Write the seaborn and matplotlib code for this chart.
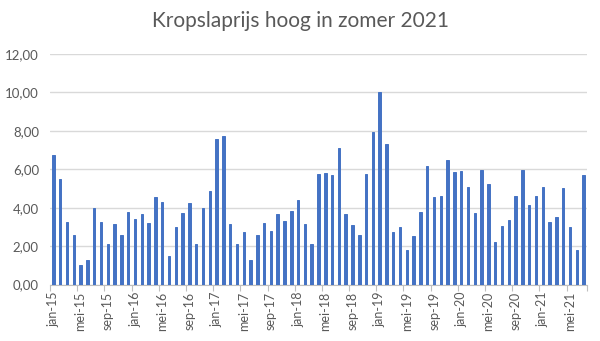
import matplotlib
matplotlib.use("Agg")
import matplotlib.pyplot as plt
import seaborn as sns
import pandas as pd
import numpy as np
from matplotlib.ticker import FixedLocator, FuncFormatter

months_nl = ["jan", "feb", "mrt", "apr", "mei", "jun", "jul", "aug", "sep", "okt", "nov", "dec"]
years = [15, 16, 17, 18, 19, 20, 21]
months = [f"{m}-{y}" for y in years for m in months_nl][:79]

values = [
    6.75, 5.51, 3.27, 2.56, 1.03, 1.30, 3.97, 3.27, 2.09, 3.13, 2.59, 3.79,
    3.41, 3.69, 3.18, 4.54, 4.28, 1.46, 2.99, 3.74, 4.24, 2.09, 3.97, 4.85,
    7.57, 7.72, 3.17, 2.09, 2.71, 1.30, 2.59, 3.22, 2.77, 3.65, 3.32, 3.81,
    4.38, 3.15, 2.09, 5.77, 5.83, 5.69, 7.13, 3.65, 3.10, 2.59, 5.77, 7.95,
    10.00, 7.30, 2.71, 2.99, 1.79, 2.52, 3.79, 6.16, 4.56, 4.63, 6.50, 5.86,
    5.91, 5.06, 3.70, 5.97, 5.22, 2.21, 3.06, 3.36, 4.63, 5.95, 4.12, 4.63,
    5.06, 3.23, 3.50, 5.01, 2.99, 1.79, 5.69,
]

title = "Kropslaprijs hoog in zomer 2021"
yticks = [0, 2, 4, 6, 8, 10, 12]

df = pd.DataFrame({"maand": months, "prijs": values})

sns.set_theme(style="white")
plt.rcParams["font.family"] = ["Lato", "DejaVu Sans"]

fig = plt.figure(figsize=(6.0, 3.41), dpi=100)
ax = fig.add_axes([50 / 600, 1 - 284.5 / 341, 537 / 600, 230.5 / 341])

sns.barplot(data=df, x="maand", y="prijs", color="#4472C4", saturation=1,
            width=0.36, ax=ax, zorder=3, edgecolor="#4472C4", linewidth=0.7)

ax.set_xlim(-0.5, len(months) - 0.5)
ax.set_ylim(0, 12)
ax.set_yticks(yticks)
ax.yaxis.set_major_formatter(FuncFormatter(lambda v, p: f"{v:.2f}".replace(".", ",")))
ax.grid(axis="y", color="#d9d9d9", linewidth=1, zorder=0)
ax.set_axisbelow(True)

label_pos = list(range(0, len(months), 4))
ax.set_xticks(label_pos)
ax.set_xticklabels([months[i] for i in label_pos], rotation=90)
ax.xaxis.set_minor_locator(FixedLocator([p - 0.5 for p in label_pos] + [len(months) - 0.5]))
ax.tick_params(axis="x", which="major", length=0, pad=5, labelsize=9, colors="#595959")
ax.tick_params(axis="x", which="minor", length=4, width=0.8, color="#bfbfbf", bottom=True)
ax.tick_params(axis="y", length=0, pad=8, labelsize=9.5, colors="#595959")

for s in ["top", "right", "left"]:
    ax.spines[s].set_visible(False)
ax.spines["bottom"].set_color("#bfbfbf")
ax.spines["bottom"].set_linewidth(0.8)

ax.set_xlabel("")
ax.set_ylabel("")

fig.text(0.5, 1 - 21 / 341, title, ha="center", va="center", fontsize=15, color="#595959")

fig.savefig("out.png", dpi=100)
